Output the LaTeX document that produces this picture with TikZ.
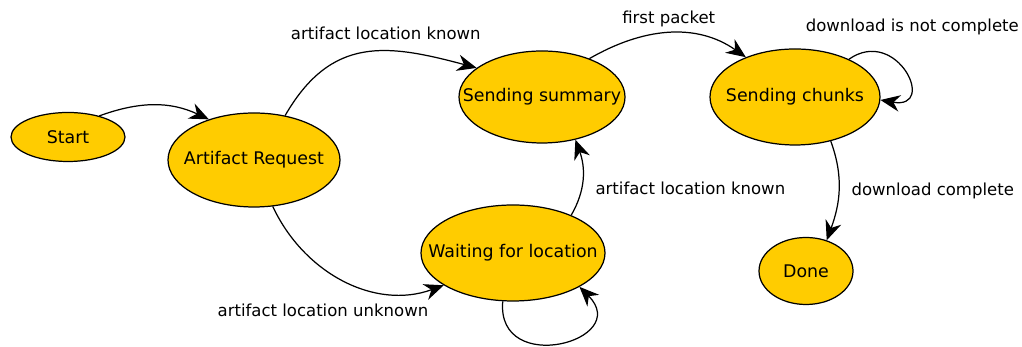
\documentclass[tikz,border=0pt]{standalone}
\usepackage{fontspec}
\setmainfont{DejaVu Sans}
\usepackage{tikz}
\usetikzlibrary{shapes.geometric, arrows.meta}
\definecolor{stategold}{HTML}{FFCC00}
\newcommand{\statetext}[1]{\makebox[0pt]{#1}}
\tikzstyle{state} = [ellipse, inner sep=0pt, draw=black, line width=0.7pt, fill=stategold, text centered, font=\fontsize{9.9}{12}\selectfont]
\tikzstyle{arrow} = [line width=0.7pt,-{Stealth[length=3.9mm,width=3.3mm]}]
\tikzstyle{lbl} = [font=\fontsize{9.4}{11}\selectfont, inner sep=1pt]

\begin{document}
\begin{tikzpicture}
\useasboundingbox (0,0) rectangle (20.44,6.94);

\node(start)[state, minimum width=2.28cm, minimum height=0.98cm] at (1.36,4.20) {\statetext{Start}};
\node(req)[state, right of=start, xshift=2.72cm, yshift=-0.46cm, minimum width=3.44cm, minimum height=1.88cm]{\statetext{Artifact Request}};
\node(summ)[state, right of=req, xshift=4.76cm, yshift=1.26cm, minimum width=3.32cm, minimum height=1.84cm]{\statetext{Sending summary}};
\node(chunks)[state, right of=summ, xshift=4.06cm, minimum width=3.40cm, minimum height=1.92cm]{\statetext{Sending chunks}};
\node(wait)[state, below of=summ, xshift=-0.58cm, yshift=-2.12cm, minimum width=3.68cm, minimum height=1.92cm]{\statetext{Waiting for location}};
\node(done)[state, below of=chunks, xshift=0.22cm, yshift=-2.48cm, minimum width=1.88cm, minimum height=1.34cm]{\statetext{Done}};

\draw [arrow] (start.34) to[out=20,in=155] (req.138);
\draw [arrow] (req.55) to[out=60,in=165,looseness=1.2] node (known1) [lbl, pos=0.5, above, xshift=12pt, yshift=6pt] {artifact location known} (summ.156);
\draw [arrow] (summ.39) to[out=30,in=145] node (packet) [lbl, above, yshift=2pt] {first packet} (chunks.141);
\draw [arrow] (chunks.35) to[out=35,in=-10,looseness=2.9] node (notdone) [lbl, above, pos=0.3, xshift=14pt, yshift=10pt] {download is not complete} (chunks.-2);
\draw [arrow] (chunks.-51) to[out=-70,in=70] node (complete) [lbl, right, xshift=6pt] {download complete} (done.56);
\draw [arrow] (req.-68) to[out=-65,in=200] node (unknown) [lbl, below, pos=0.5, xshift=-12pt, yshift=-12pt] {artifact location unknown} (wait.205);
\draw [arrow] (wait.33) to[out=60,in=-70] node (known2) [lbl, right, xshift=6pt, yshift=-6pt] {artifact location known} (summ.-52);
\draw [arrow] (wait.-102) to[out=-95,in=-45,looseness=2.5] (wait.-27);

\end{tikzpicture}
\end{document}
